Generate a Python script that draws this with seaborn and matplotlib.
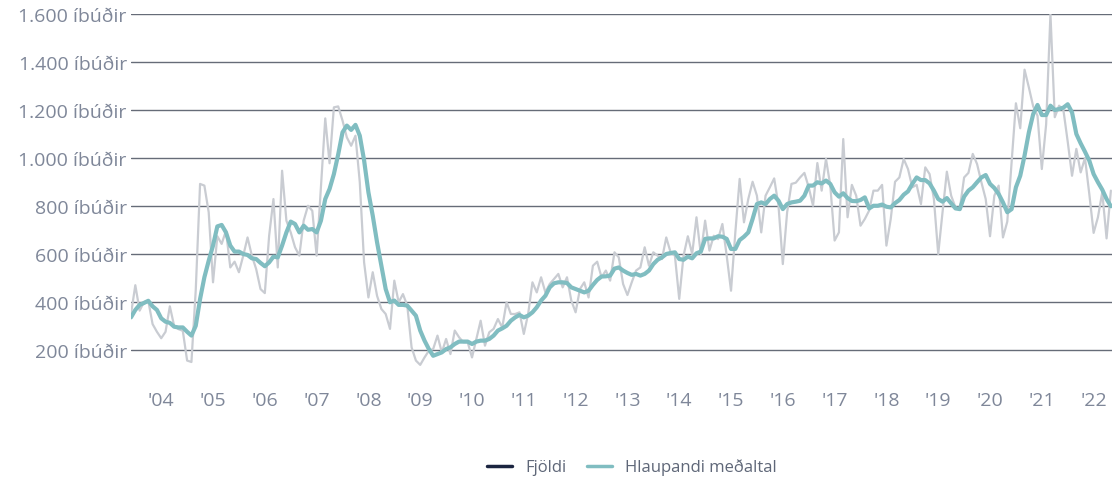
import numpy as np
import pandas as pd
import matplotlib
matplotlib.use("Agg")
import matplotlib.pyplot as plt
from matplotlib.lines import Line2D
import seaborn as sns

# Monthly data, June 2003 - May 2022
start_month = "2003-06-01"
fjoldi = [
    350, 470, 364, 400, 405, 308, 276,                                   # 2003 (Jun-Dec)
    249, 276, 382, 300, 287, 280, 156, 150, 450, 892, 885, 774,         # 2004
    482, 674, 642, 697, 544, 568, 524, 593, 669, 593, 537, 454,         # 2005
    437, 676, 829, 544, 947, 739, 690, 628, 593, 739, 801, 780,         # 2006
    593, 878, 1165, 978, 1211, 1215, 1156, 1086, 1051, 1093, 899, 565,  # 2007
    419, 524, 426, 371, 350, 288, 489, 399, 433, 385, 211, 156,         # 2008
    138, 169, 197, 204, 260, 190, 246, 183, 281, 253, 232, 232,         # 2009
    169, 246, 322, 218, 274, 288, 329, 294, 399, 350, 350, 357,         # 2010
    267, 350, 482, 440, 503, 440, 475, 496, 517, 461, 503, 406,         # 2011
    357, 454, 482, 419, 551, 568, 503, 531, 489, 607, 586, 475,         # 2012
    429, 482, 531, 544, 628, 551, 607, 593, 579, 669, 607, 593,         # 2013
    413, 593, 674, 600, 753, 600, 739, 614, 676, 662, 725, 593,         # 2014
    447, 690, 913, 732, 829, 901, 843, 690, 843, 878, 915, 801,         # 2015
    558, 774, 892, 897, 919, 938, 878, 801, 979, 864, 996, 885,         # 2016
    656, 690, 1079, 753, 888, 843, 718, 746, 781, 864, 864, 888,        # 2017
    635, 746, 901, 919, 996, 954, 878, 888, 808, 961, 933, 829,         # 2018
    600, 774, 943, 843, 794, 787, 919, 938, 1017, 975, 899, 829,        # 2019
    674, 843, 885, 669, 735, 982, 1228, 1124, 1368, 1294, 1215, 1176,   # 2020
    954, 1140, 1600, 1170, 1218, 1200, 1068, 926, 1038, 940, 1000, 850, # 2021
    688, 753, 857, 665, 864,                                            # 2022 (Jan-May)
]
medaltal = [
    336, 367, 388, 396, 405, 382, 367,
    332, 318, 313, 297, 294, 294, 276, 260, 301, 412, 503, 572,
    635, 715, 721, 690, 635, 610, 610, 600, 596, 582, 579, 563,
    549, 565, 589, 586, 635, 690, 735, 725, 690, 718, 701, 704,
    690, 739, 829, 871, 933, 1015, 1107, 1135, 1117, 1138, 1093, 990,
    857, 760, 649, 551, 454, 399, 406, 388, 388, 385, 364, 343,
    281, 239, 204, 176, 183, 190, 204, 211, 225, 235, 235, 235,
    225, 235, 239, 239, 246, 260, 281, 290, 301, 322, 336, 346,
    336, 343, 357, 378, 406, 426, 461, 478, 482, 482, 479, 461,
    454, 447, 440, 447, 471, 492, 506, 507, 510, 539, 544, 531,
    521, 513, 517, 510, 517, 531, 558, 576, 586, 600, 604, 607,
    579, 576, 589, 582, 603, 610, 663, 665, 665, 674, 672, 663,
    621, 621, 658, 672, 690, 746, 808, 815, 808, 829, 843, 822,
    787, 808, 815, 818, 822, 843, 885, 885, 899, 894, 906, 892,
    857, 839, 853, 833, 821, 820, 825, 836, 790, 801, 801, 806,
    797, 794, 812, 825, 847, 861, 892, 919, 908, 908, 894, 864,
    829, 818, 833, 811, 790, 787, 839, 864, 878, 899, 919, 929,
    892, 875, 850, 815, 774, 787, 878, 926, 1010, 1107, 1183, 1221,
    1179, 1179, 1218, 1200, 1204, 1210, 1224, 1190, 1100, 1061, 1026, 989,
    933, 899, 868, 829, 799,
]
year_ticks = list(range(2004, 2023))
year_labels = ["'%02d" % (y % 100) for y in year_ticks]
y_ticks = [200, 400, 600, 800, 1000, 1200, 1400, 1600]
y_labels = ["200 íbúðir", "400 íbúðir", "600 íbúðir", "800 íbúðir",
            "1.000 íbúðir", "1.200 íbúðir", "1.400 íbúðir", "1.600 íbúðir"]
series_names = ["Fjöldi", "Hlaupandi meðaltal"]

dates = pd.date_range(start_month, periods=len(fjoldi), freq="MS")
t = dates.year + (dates.month - 1) / 12.0
df = pd.DataFrame({"t": t, "Fjöldi": fjoldi, "Hlaupandi meðaltal": medaltal})

sns.set_theme(style="white")
plt.rcParams["font.family"] = ["Open Sans", "DejaVu Sans"]

W, H = 1112, 481
fig = plt.figure(figsize=(W / 100, H / 100), dpi=100)
ax = fig.add_axes([131 / W, (H - 375) / H, (W - 131) / W, 360 / H])

grid_c = "#666c78"
for yv in y_ticks:
    ax.axhline(yv, color=grid_c, lw=1.0, zorder=0)

gray_c = "#c9ccd2"
teal_c = "#80bdc1"
dark_c = "#1b2540"
sns.lineplot(data=df, x="t", y="Fjöldi", ax=ax, color=gray_c, lw=1.6, zorder=2)
sns.lineplot(data=df, x="t", y="Hlaupandi meðaltal", ax=ax, color=teal_c, lw=3.0, zorder=3)

ax.set_xlim(t[0], t[0] + (W - 131) / 51.8)
ax.set_ylim(100, 1600)
ax.set_xticks(year_ticks)
ax.set_xticklabels(year_labels)
ax.set_yticks(y_ticks)
ax.set_yticklabels(y_labels)
ax.set_xlabel("")
ax.set_ylabel("")
txt_c = "#7f8799"
ax.tick_params(axis="both", length=0, labelsize=14, colors=txt_c)
ax.tick_params(axis="x", pad=12)
ax.tick_params(axis="y", pad=3)
for s in ax.spines.values():
    s.set_visible(False)
ax.grid(False)
if ax.get_legend():
    ax.get_legend().remove()

handles = [Line2D([0], [0], color=dark_c, lw=2.5),
           Line2D([0], [0], color=teal_c, lw=2.5)]
fig.legend(handles, series_names, loc="center", bbox_to_anchor=(632 / W, 1 - 468 / H),
           ncol=2, frameon=False, handlelength=1.5, columnspacing=1.2,
           labelcolor="#5f6778", prop={"family": ["Open Sans", "DejaVu Sans"], "size": 12})

fig.savefig("out.png", dpi=100)
